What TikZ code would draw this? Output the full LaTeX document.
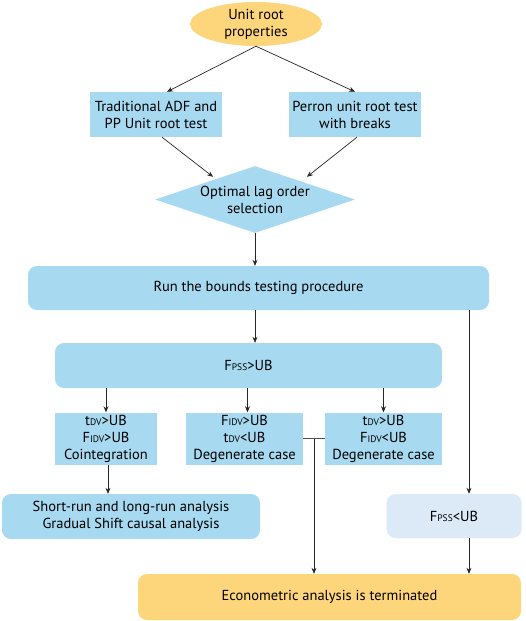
\documentclass[tikz,border=0pt]{standalone}
\usepackage{fontspec}
\setmainfont{PT Sans}
\usetikzlibrary{shapes.geometric,arrows.meta,calc}

\definecolor{boxblue}{RGB}{167,217,240}
\definecolor{paleblue}{RGB}{220,233,246}
\definecolor{boxorange}{RGB}{253,213,122}
\newcommand{\sub}[1]{{\fontsize{9.5}{9.5}\selectfont #1}}

\begin{document}
\begin{tikzpicture}[x=1pt,y=1pt,yscale=-1,xscale=1,
  every node/.style={font=\fontsize{14.5}{17}\selectfont, align=center, inner sep=0pt},
  bluebox/.style={fill=boxblue, minimum height=45pt},
  roundbox/.style={bluebox, rounded corners=9pt},
  arr/.style={draw=black!85, line width=0.7pt, -{Stealth[length=6pt,width=5pt]}},
  link/.style={draw=black!70, line width=0.7pt}]
\useasboundingbox (0,0) rectangle (526,621);

%Shape: start ellipse
\node [ellipse, fill=boxorange, minimum width=132pt, minimum height=44pt] (root) at (256,24) {Unit root\\properties};
%Shape: unit root tests
\node [bluebox, minimum width=132pt] (adf) at (156,114.5) {Traditional ADF and\\PP Unit root test};
\node [bluebox, minimum width=132pt] (perron) at (355,114.5) {Perron unit root test\\with breaks};
%Shape: lag selection
\node [diamond, aspect=3, fill=boxblue, minimum width=200pt, minimum height=67pt] (lag) at (255,199.5) {Optimal lag order\\selection};
%Shape: bounds test
\node [roundbox, minimum width=461pt, minimum height=44pt] (run) at (258.5,288) {Run the bounds testing procedure};
\node [roundbox, minimum width=387pt] (fgt) at (248.5,365.5) {F\sub{PSS}>UB};
%Shape: cases
\node [bluebox, minimum width=102pt, minimum height=52pt] (coint) at (106,438.5) {t\sub{DV}>UB\\F\sub{IDV}>UB\\Cointegration};
\node [bluebox, minimum width=117pt, minimum height=52pt] (degA) at (244.5,438.5) {F\sub{IDV}>UB\\t\sub{DV}<UB\\Degenerate case};
\node [bluebox, minimum width=117pt, minimum height=52pt] (degB) at (383.5,438.5) {t\sub{DV}>UB\\F\sub{IDV}<UB\\Degenerate case};
%Shape: results
\node [roundbox, minimum width=258pt] (short) at (131,516.5) {Short-run and long-run analysis\\Gradual Shift causal analysis};
\node [roundbox, fill=paleblue, minimum width=135pt, minimum height=44pt] (flt) at (454,516) {F\sub{PSS}<UB};
\node [roundbox, fill=boxorange, minimum width=383pt, minimum height=46pt] (term) at (329.5,597) {Econometric analysis is terminated};

%Straight Lines
\coordinate (rline) at ($(flt.north)+(15,0)$);
\coordinate (mid) at ($(degA.east)!0.5!(degB.west)$);
\draw [arr] (root.south) -- ($(adf.north)+(11,0)$);
\draw [arr] (root.south) -- (perron.north);
\draw [arr] ($(adf.south)+(6,0)$) -- ($(lag.north)+(-42,11)$);
\draw [arr] ($(perron.south)+(2,0)$) -- ($(lag.north)+(52,11)$);
\draw [arr] (lag.south) -- (lag.south |- run.north);
\draw [arr] (lag.south |- run.south) -- (lag.south |- fgt.north);
\draw [arr] (rline |- run.south) -- (rline);
\draw [arr] (rline |- flt.south) -- (rline |- term.north);
\draw [arr] (coint |- fgt.south) -- (coint.north);
\draw [arr] ($(degA |- fgt.south)+(3,0)$) -- ($(degA.north)+(3,0)$);
\draw [arr] (degB |- fgt.south) -- (degB.north);
\draw [arr] ($(coint.south)+(2,0)$) -- ($(coint.south |- short.north)+(2,0)$);
\draw [link] (degA.east) -- (degB.west);
\draw [arr] (mid) -- (mid |- term.north);

\end{tikzpicture}
\end{document}
